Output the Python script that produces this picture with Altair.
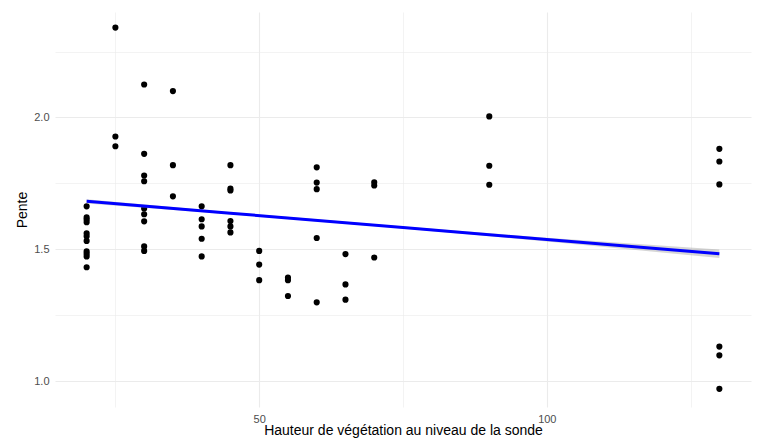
import altair as alt
import pandas as pd

# Slope measured at each probe, by vegetation height at the probe (cm)
hauteur = (
    [20] * 11 + [25] * 3 + [30] * 9 + [35] * 3 + [40] * 5 + [45] * 6
    + [50] * 3 + [55] * 3 + [60] * 5 + [65] * 3 + [70] * 3 + [90] * 3 + [130] * 6
)
pente = [
    1.663, 1.621, 1.613, 1.603, 1.561, 1.550, 1.532, 1.492, 1.483, 1.473, 1.432,  # 20
    2.341, 1.928, 1.891,                                                          # 25
    2.125, 1.862, 1.780, 1.758, 1.655, 1.633, 1.606, 1.511, 1.494,                # 30
    2.100, 1.819, 1.701,                                                          # 35
    1.663, 1.614, 1.587, 1.540, 1.473,                                            # 40
    1.819, 1.730, 1.723, 1.607, 1.587, 1.564,                                     # 45
    1.494, 1.442, 1.383,                                                          # 50
    1.393, 1.383, 1.323,                                                          # 55
    1.811, 1.753, 1.728, 1.543, 1.299,                                            # 60
    1.482, 1.367, 1.309,                                                          # 65
    1.754, 1.742, 1.469,                                                          # 70
    2.004, 1.817, 1.745,                                                          # 90
    1.881, 1.833, 1.746, 1.131, 1.098, 0.971,                                     # 130
]

# Linear fit and its confidence band
fit_x = [20, 45, 75, 100, 130]
fit_y = [1.682, 1.637, 1.583, 1.537, 1.483]
fit_halfwidth = [0.008, 0.004, 0.004, 0.007, 0.016]

points = pd.DataFrame({"hauteur": hauteur, "pente": pente})
fit = pd.DataFrame({
    "hauteur": fit_x,
    "pente": fit_y,
    "lo": [y - h for y, h in zip(fit_y, fit_halfwidth)],
    "hi": [y + h for y, h in zip(fit_y, fit_halfwidth)],
})

FONT = "Liberation Sans"

x_scale = alt.Scale(domain=[14.5, 135.5], nice=False, zero=False)
y_scale = alt.Scale(domain=[0.902, 2.40], nice=False, zero=False)

x_axis = alt.Axis(
    title="Hauteur de végétation au niveau de la sonde",
    values=[25, 50, 75, 100, 125],
    labelExpr="datum.value % 50 == 0 ? datum.label : ''",
    grid=True,
    gridColor="#EBEBEB",
    gridWidth={"condition": {"test": "datum.value % 50 == 0", "value": 1.1}, "value": 0.6},
    domain=False,
    ticks=False,
    labelColor="#4D4D4D",
    labelFontSize=11,
    labelFont=FONT,
    labelPadding=6,
    titleFont=FONT,
    titleFontSize=14,
    titleFontWeight="normal",
    titleColor="#000000",
    titlePadding=-1,
)
y_axis = alt.Axis(
    title="Pente",
    values=[1.0, 1.25, 1.5, 1.75, 2.0, 2.25],
    format=".1f",
    labelExpr="(datum.value * 2) % 1 == 0 ? datum.label : ''",
    grid=True,
    gridColor="#EBEBEB",
    gridWidth={"condition": {"test": "(datum.value * 2) % 1 == 0", "value": 1.1}, "value": 0.6},
    domain=False,
    ticks=False,
    labelColor="#4D4D4D",
    labelFontSize=11,
    labelFont=FONT,
    labelPadding=6,
    titleFont=FONT,
    titleFontSize=14,
    titleFontWeight="normal",
    titleColor="#000000",
    titlePadding=4,
)

pts = alt.Chart(points).mark_circle(size=38, color="#000000", opacity=1).encode(
    x=alt.X("hauteur:Q", scale=x_scale, axis=x_axis),
    y=alt.Y("pente:Q", scale=y_scale, axis=y_axis),
)

band = alt.Chart(fit).mark_area(color="#999999", opacity=0.4).encode(
    x=alt.X("hauteur:Q", scale=x_scale),
    y=alt.Y("lo:Q", scale=y_scale),
    y2="hi:Q",
)

line = alt.Chart(fit).mark_line(color="#0000FF", strokeWidth=3).encode(
    x=alt.X("hauteur:Q", scale=x_scale),
    y=alt.Y("pente:Q", scale=y_scale),
)

chart = (
    alt.layer(pts, band, line)
    .properties(
        width=696,
        height=395,
        autosize=alt.AutoSizeParams(type="none"),
        padding={"left": 55, "top": 12, "right": 6, "bottom": 33},
        background="#FFFFFF",
    )
    .configure_view(stroke=None)
)

chart.save("out.html", embed_options={"renderer": "svg", "actions": False})
